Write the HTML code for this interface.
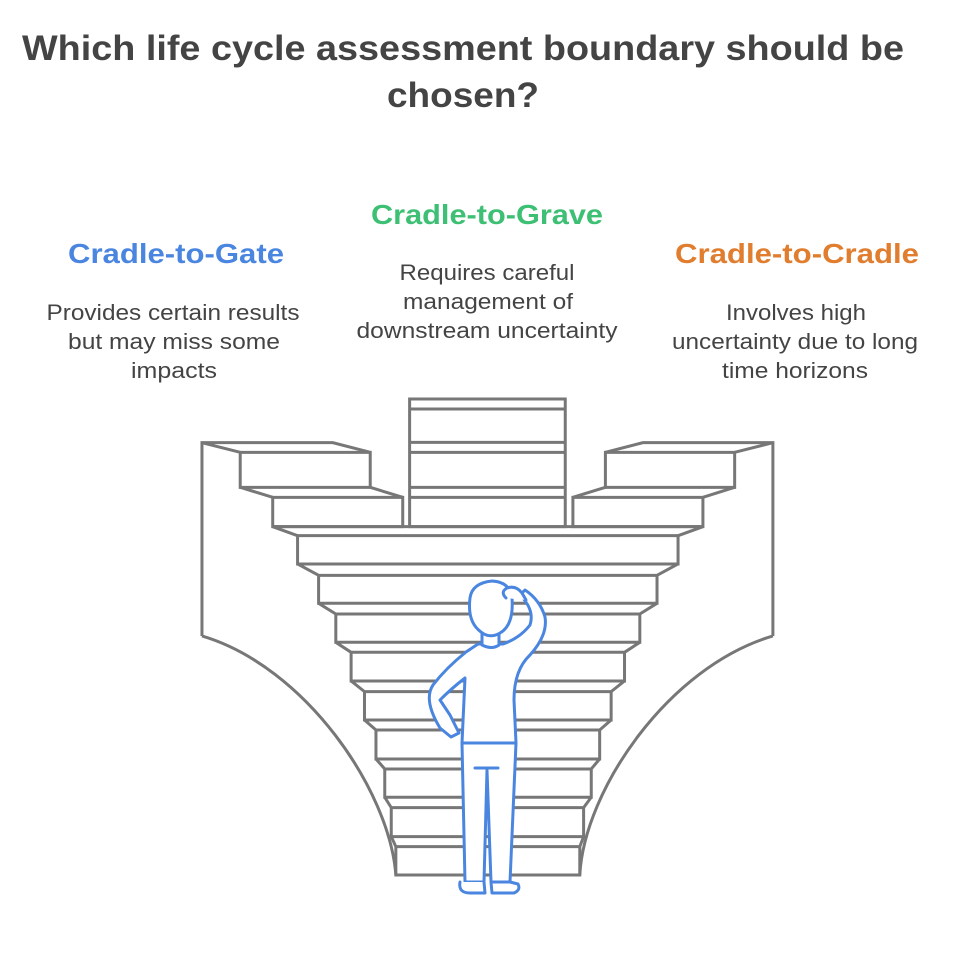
<!DOCTYPE html>
<html><head><meta charset="utf-8"><style>
html,body{margin:0;padding:0;background:#fff;}
svg{display:block;}
text{font-family:"Liberation Sans",sans-serif;}
</style></head><body>
<svg width="975" height="977" viewBox="0 0 975 977" xmlns="http://www.w3.org/2000/svg">
<text x="463" y="60" text-anchor="middle" font-size="35" font-weight="bold" fill="#444" textLength="882" lengthAdjust="spacingAndGlyphs">Which life cycle assessment boundary should be</text>
<text x="463" y="107" text-anchor="middle" font-size="35" font-weight="bold" fill="#444" textLength="152" lengthAdjust="spacingAndGlyphs">chosen?</text>

<text x="487" y="224" text-anchor="middle" font-size="28" font-weight="bold" fill="#3dbf74" textLength="232" lengthAdjust="spacingAndGlyphs">Cradle-to-Grave</text>
<text x="176" y="263" text-anchor="middle" font-size="28" font-weight="bold" fill="#4a86e0" textLength="216" lengthAdjust="spacingAndGlyphs">Cradle-to-Gate</text>
<text x="797" y="263" text-anchor="middle" font-size="28" font-weight="bold" fill="#e07d2e" textLength="244" lengthAdjust="spacingAndGlyphs">Cradle-to-Cradle</text>

<g font-size="22" fill="#444" text-anchor="middle">
<text x="487" y="280" textLength="175" lengthAdjust="spacingAndGlyphs">Requires careful</text>
<text x="488" y="309" textLength="170" lengthAdjust="spacingAndGlyphs">management of</text>
<text x="487" y="338" textLength="261" lengthAdjust="spacingAndGlyphs">downstream uncertainty</text>
<text x="173" y="320" textLength="253" lengthAdjust="spacingAndGlyphs">Provides certain results</text>
<text x="174" y="349" textLength="212" lengthAdjust="spacingAndGlyphs">but may miss some</text>
<text x="174" y="378" textLength="86" lengthAdjust="spacingAndGlyphs">impacts</text>
<text x="796" y="320" textLength="140" lengthAdjust="spacingAndGlyphs">Involves high</text>
<text x="795" y="349" textLength="246" lengthAdjust="spacingAndGlyphs">uncertainty due to long</text>
<text x="795" y="378" textLength="146" lengthAdjust="spacingAndGlyphs">time horizons</text>
</g>

<g transform="translate(190.5,390) scale(0.3824,0.3333)" fill="none" stroke="#777" stroke-width="3" stroke-linejoin="miter">
<path vector-effect="non-scaling-stroke" d="M30,738 L30,158 L372,158 L470,187 M30,158 L130,187 M30,738 C300,830 520,1200 537,1455"/>
<path vector-effect="non-scaling-stroke" d="M1523,738 L1523,158 L1183,158 L1085,187 M1523,158 L1423,187 M1523,738 C1250,830 1030,1200 1018,1455"/>
<rect vector-effect="non-scaling-stroke" x="130" y="187" width="340" height="105"/>
<path vector-effect="non-scaling-stroke" d="M130,292 L215,322 M470,292 L555,322"/>
<rect vector-effect="non-scaling-stroke" x="215" y="322" width="340" height="88"/>
<rect vector-effect="non-scaling-stroke" x="1085" y="187" width="338" height="105"/>
<path vector-effect="non-scaling-stroke" d="M1423,292 L1340,322 M1085,292 L1000,322"/>
<rect vector-effect="non-scaling-stroke" x="1000" y="322" width="340" height="88"/>
<rect vector-effect="non-scaling-stroke" x="573" y="27" width="407" height="383"/>
<path vector-effect="non-scaling-stroke" d="M573,57 H980 M573,157 H980 M573,187 H980 M573,292 H980 M573,322 H980"/>
<path vector-effect="non-scaling-stroke" d="M215,410 H1340 L1275,437 M215,410 L280,437"/>
<path vector-effect="non-scaling-stroke" d="
M280,437 H1275 V522 H280 Z M280,522 L335,556 M1275,522 L1220,556
M335,556 H1220 V640 H335 Z M335,640 L380,672 M1220,640 L1175,672
M380,672 H1175 V757 H380 Z M380,757 L420,787 M1175,757 L1135,787
M420,787 H1135 V873 H420 Z M420,873 L455,905 M1135,873 L1100,905
M455,905 H1100 V990 H455 Z M455,990 L485,1020 M1100,990 L1070,1020
M485,1020 H1070 V1107 H485 Z M485,1107 L508,1137 M1070,1107 L1048,1137
M508,1137 H1048 V1222 H508 Z M508,1222 L525,1253 M1048,1222 L1028,1253
M525,1253 H1028 V1340 H525 Z M525,1340 L537,1370 M1028,1340 L1018,1370
M537,1370 H1018 V1455 H537 Z"/>
</g>

<g fill="#fff" stroke="#4a86e0" stroke-width="3" stroke-linejoin="round" stroke-linecap="round">
<path d="M462,743 L465,882 L484,882 L487,770 L491,882 L510,882 L516,743 Z"/>
<path d="M460,882 Q458,893 470,893 L485,893 L484,882 M510,882 L491,882 L492,893 L514,893 Q521,890 518,884 Z"/>
<path d="M475,768 L498,768"/>
<path d="M478,644 L466,652 Q446,668 433,685 Q423,700 440,728 L451,737 L459,733 L450,715 L440,700 Q452,688 465,678 L462,743 L516,743 L514,700 Q514,670 530,655 Q548,635 545,617 Q540,600 525,590 L520,595 Q535,610 530,625 Q520,638 503,644 Z"/>
<path d="M482,630 L482,645 Q492,650 499,645 L499,630"/>
<path d="M470,598 Q472,583 492,581 Q510,582 512,598 Q514,625 500,633 Q490,639 481,632 Q467,622 470,598 Z"/>
<path d="M506,598 Q500,592 507,588 Q516,585 522,593 L526,600"/>
</g>
</svg>
</body></html>
